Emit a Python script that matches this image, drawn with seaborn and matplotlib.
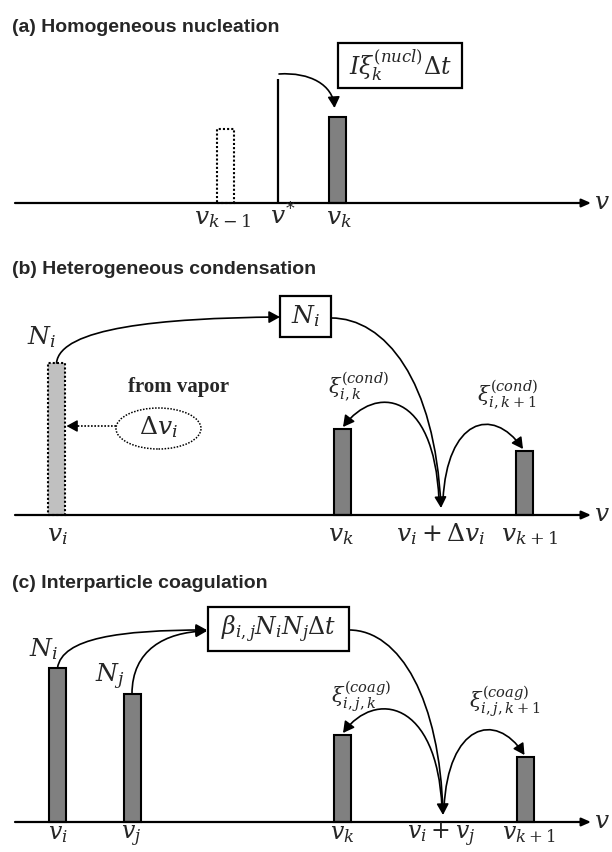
import matplotlib
matplotlib.use("Agg")
import matplotlib.pyplot as plt
import numpy as np
import seaborn as sns
from matplotlib.patches import Rectangle, Ellipse, FancyArrowPatch
from matplotlib.path import Path

sns.set_theme(style="white")
plt.rcParams["font.family"] = ["Liberation Sans", "DejaVu Sans"]
plt.rcParams["mathtext.fontset"] = "dejavuserif"

# ---------------- size-bin data (v along the axis, N as bar height) ----------------
# (a) homogeneous nucleation
nucl_prev_v, nucl_prev_n = 225, 74        # bin k-1, left empty
nucl_crit_v, nucl_crit_n = 278, 124       # critical cluster size v*
nucl_bin_v = [337.5]                      # receiving bin k
nucl_bin_n = [86]
nucl_tick_v = [222, 283, 339]
nucl_tick_lbl = [r"$v_{k-1}$", r"$v^{*}$", r"$v_k$"]

# (b) heterogeneous condensation
cond_src_v, cond_src_n = 56.5, 152        # particles growing from vapor
cond_bin_v = [342, 524]                   # bins k and k+1
cond_bin_n = [86, 64]
cond_grown_v = 441                        # v_i + dv_i
cond_tick_v = [57, 341, 441, 529]
cond_tick_lbl = [r"$v_i$", r"$v_k$", r"$v_i+\Delta v_i$", r"$v_{k+1}$"]

# (c) interparticle coagulation
coag_src_v = [57.5, 132]                  # colliding bins i and j
coag_src_n = [154, 128]
coag_bin_v = [342, 525.5]                 # bins k and k+1
coag_bin_n = [87, 65]
coag_merged_v = 443
coag_tick_v = [57.5, 131, 342, 441, 529]
coag_tick_lbl = [r"$v_i$", r"$v_j$", r"$v_k$", r"$v_i+v_j$", r"$v_{k+1}$"]

W, H = 612, 852
BAR_W = 17
EDGE = 1.5
MATH = 18
XI = 15
fig = plt.figure(figsize=(W / 100, H / 100), dpi=100)
fig.patch.set_facecolor("white")


def panel(top, bottom, base):
    ax = fig.add_axes([0, 1 - bottom / H, 1, (bottom - top) / H])
    ax.set_facecolor("none")
    ax._lims = (base - bottom, base - top)
    return ax


def finish(ax):
    ax.set_xlim(0, W)
    ax.set_ylim(*ax._lims)
    ax.axis("off")


def bins(ax, v, n, **kw):
    u = np.unique(np.asarray(v, float))
    step = np.min(np.diff(u)) if len(u) > 1 else 1.0
    sns.barplot(x=list(v), y=list(n), native_scale=True, orient="x",
                width=BAR_W / step, errorbar=None, saturation=1,
                edgecolor="black", linewidth=EDGE, ax=ax, **kw)


def v_axis(ax):
    ax.annotate("", xy=(591, 0), xytext=(15, 0),
                arrowprops=dict(arrowstyle="-|>,head_length=0.5,head_width=0.22",
                                color="black", lw=1.6, shrinkA=0, shrinkB=0,
                                mutation_scale=11), zorder=1)
    ax.text(594, 1, r"$v$", fontsize=18, ha="left", va="center")


def ticks(ax, xs, lbls, y, size=MATH):
    for x, s in zip(xs, lbls):
        ax.text(x, y, s, fontsize=size, ha="center", va="baseline")


def curve(ax, pts, head=True, lw=1.2):
    path = Path(pts, [Path.MOVETO, Path.CURVE4, Path.CURVE4, Path.CURVE4])
    style = "-|>,head_length=0.55,head_width=0.3" if head else "-"
    ax.add_patch(FancyArrowPatch(path=path, arrowstyle=style, mutation_scale=12,
                                 lw=lw, color="black", zorder=4))


def box(ax, x0, y0, w, h, s, size=MATH):
    ax.add_patch(Rectangle((x0, y0), w, h, fill=False, lw=1.6, ec="black", zorder=3))
    ax.text(x0 + w / 2, y0 + h / 2, s, fontsize=size, ha="center", va="center")


def title(ax, y, s):
    ax.text(12, y, s, fontsize=14, fontweight="bold", ha="left", va="center",
            family=["Liberation Sans", "DejaVu Sans"])


# ---------------- (a) ----------------
ax = panel(0, 240, 203)
title(ax, 176, "(a) Homogeneous nucleation")
bins(ax, [nucl_prev_v], [nucl_prev_n], color="white", linestyle=(0, (1, 1)))
bins(ax, nucl_bin_v, nucl_bin_n, color="#808080")
ax.vlines(nucl_crit_v, 0, nucl_crit_n, color="black", lw=1.6)
v_axis(ax)
ticks(ax, nucl_tick_v, nucl_tick_lbl, -21)
box(ax, 338, 115, 124, 45, r"$I\xi_k^{(nucl)}\Delta t$", size=17)
curve(ax, [(nucl_crit_v + 1, 129), (310, 131), (333, 118), (nucl_bin_v[0] - 3, nucl_bin_n[0] + 9)])
finish(ax)

# ---------------- (b) ----------------
ax = panel(240, 560, 515)
title(ax, 246, "(b) Heterogeneous condensation")
bins(ax, [cond_src_v], [cond_src_n], color="#c0c0c0", linestyle=(0, (1, 1)))
bins(ax, cond_bin_v, cond_bin_n, color="#808080")
v_axis(ax)
ticks(ax, cond_tick_v, cond_tick_lbl, -26)
ax.text(42, 171, r"$N_i$", fontsize=MATH, ha="center", va="baseline")
box(ax, 280, 178, 51, 41, r"$N_i$")
ax.text(128, 123, "from vapor", fontsize=15, fontweight="bold", ha="left",
        va="baseline", family=["Liberation Serif", "DejaVu Serif"])
ax.add_patch(Ellipse((158.5, 86.5), 85, 41, fill=False, lw=1.1, ls=(0, (1, 1)), ec="black"))
ax.text(158.5, 88, r"$\Delta v_i$", fontsize=MATH, ha="center", va="center")
ax.plot([116, 74], [89, 89], color="black", lw=1.2, ls=(0, (1, 1)))
ax.annotate("", xy=(cond_src_v + 10, 89), xytext=(78, 89),
            arrowprops=dict(arrowstyle="-|>,head_length=0.55,head_width=0.3",
                            mutation_scale=12, color="black", lw=1.0,
                            shrinkA=0, shrinkB=0))
curve(ax, [(cond_src_v, cond_src_n), (60, 187), (160, 197), (280, 198)])
curve(ax, [(331, 197), (385, 197), (435, 135), (cond_grown_v, 7)])
curve(ax, [(cond_grown_v - 2, 15), (434, 125), (375, 130), (cond_bin_v[0] + 1, cond_bin_n[0] + 2)])
curve(ax, [(cond_grown_v + 2, 15), (447, 95), (492, 110), (cond_bin_v[1] - 1, cond_bin_n[1] + 2)])
ax.text(359, 128, r"$\xi_{i,k}^{(cond)}$", fontsize=XI, ha="center", va="center")
ax.text(508, 120, r"$\xi_{i,k+1}^{(cond)}$", fontsize=XI, ha="center", va="center")
finish(ax)

# ---------------- (c) ----------------
ax = panel(560, 852, 822)
title(ax, 239, "(c) Interparticle coagulation")
bins(ax, coag_src_v, coag_src_n, color="#808080")
bins(ax, coag_bin_v, coag_bin_n, color="#808080")
v_axis(ax)
ticks(ax, coag_tick_v, coag_tick_lbl, -17, size=17)
ax.text(44, 166, r"$N_i$", fontsize=MATH, ha="center", va="baseline")
ax.text(110, 140, r"$N_j$", fontsize=MATH, ha="center", va="baseline")
box(ax, 208, 171, 141, 44, r"$\beta_{i,j}N_iN_j\Delta t$", size=17)
curve(ax, [(coag_src_v[0], coag_src_n[0]), (62, 184), (120, 192), (207, 192)])
curve(ax, [(coag_src_v[1], coag_src_n[1]), (132, 172), (165, 190), (207, 191)])
curve(ax, [(349, 192), (400, 192), (440, 122), (coag_merged_v, 7)])
curve(ax, [(coag_merged_v - 1, 14), (437, 122), (375, 132), (coag_bin_v[0] + 1, coag_bin_n[0] + 2)])
curve(ax, [(coag_merged_v + 1, 14), (448, 97), (495, 112), (coag_bin_v[1] - 1, coag_bin_n[1] + 2)])
ax.text(361, 125, r"$\xi_{i,j,k}^{(coag)}$", fontsize=XI, ha="center", va="center")
ax.text(505, 120, r"$\xi_{i,j,k+1}^{(coag)}$", fontsize=XI, ha="center", va="center")
finish(ax)

fig.savefig("out.png", dpi=100, facecolor="white")
